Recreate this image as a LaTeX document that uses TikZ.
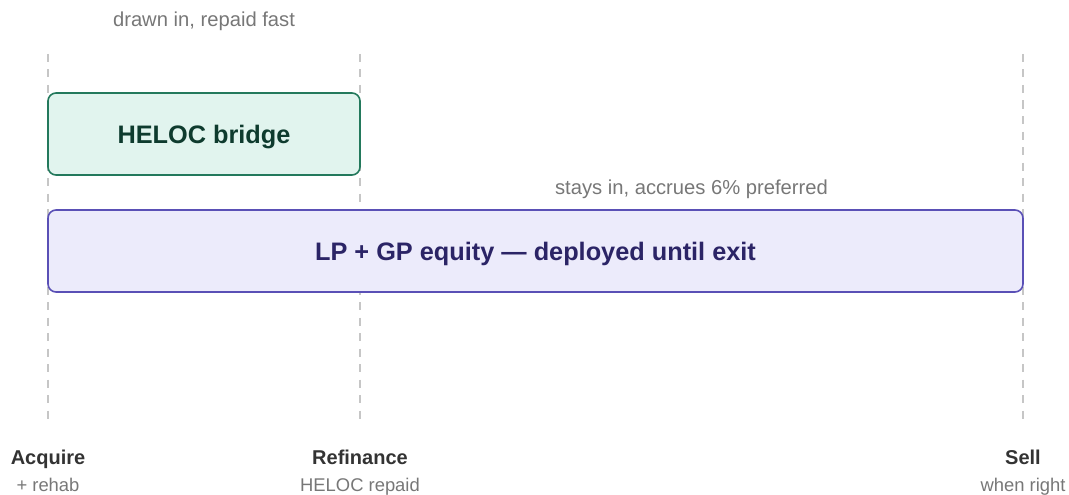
\documentclass[tikz,border=0pt]{standalone}
\usepackage{fontspec}
\setmainfont{Liberation Sans}
\usetikzlibrary{positioning}
\definecolor{helocfill}{HTML}{E1F4EE}
\definecolor{helocline}{HTML}{23795C}
\definecolor{helocink}{HTML}{0E3B2E}
\definecolor{lpfill}{HTML}{ECEBFB}
\definecolor{lpline}{HTML}{5A50B6}
\definecolor{lpink}{HTML}{2B2466}
\definecolor{notegray}{HTML}{777777}
\definecolor{stageink}{HTML}{333333}
\definecolor{guidegray}{HTML}{C6C6C6}
\tikzset{
  phase/.style   ={draw, rounded corners=8pt, line width=1.6pt, minimum height=82pt, inner sep=0pt,
                   text height=18pt, text depth=0pt, font=\fontsize{25.3}{30}\selectfont\bfseries},
  bridge/.style  ={phase, fill=helocfill, draw=helocline, text=helocink, minimum width=312pt},
  equity/.style  ={phase, fill=lpfill, draw=lpline, text=lpink, minimum width=975pt},
  guide/.style   ={draw=guidegray, line width=1.6pt, dash pattern=on 8pt off 7.5pt},  % milestone line
  note/.style    ={anchor=base, font=\fontsize{20.2}{24}\selectfont, text=notegray},
  stage/.style   ={anchor=base, font=\fontsize{20}{24}\selectfont\bfseries, text=stageink},
  substage/.style={anchor=base, font=\fontsize{18.4}{22}\selectfont, text=notegray},
}

\begin{document}
\begin{tikzpicture}[x=1pt, y=-1pt]
  \useasboundingbox (0,0) rectangle (1069,495);

  % --- milestones ---
  \coordinate (acqtop) at (48,54);    \coordinate (acqbot) at (48,420);
  \coordinate (reftop) at (360,54);   \coordinate (refbot) at (360,420);
  \coordinate (selltop) at (1023,54); \coordinate (sellbot) at (1023,420);
  \draw[guide] (acqtop) -- (acqbot);
  \draw[guide] (reftop) -- (refbot);
  \draw[guide] (selltop) -- (sellbot);

  % --- capital layers ---
  \node[bridge] (heloc) at (204,134)   {HELOC bridge};
  \node[equity] (lpgp)  at (535.5,251) {LP + GP equity — deployed until exit};
  \node[note] (helocnote) at (204,27)   {drawn in, repaid fast};
  \node[note] (lpgpnote)  at (691.5,194) {stays in, accrues 6\% preferred};

  % --- stage labels ---
  \node[stage]    (acq)     at (48,464)   {Acquire};
  \node[substage] (acqsub)  at (48,491)   {+ rehab};
  \node[stage]    (ref)     at (360,464)  {Refinance};
  \node[substage] (refsub)  at (360,491)  {HELOC repaid};
  \node[stage]    (sell)    at (1023,464) {Sell};
  \node[substage] (sellsub) at (1023,491) {when right};
\end{tikzpicture}
\end{document}
